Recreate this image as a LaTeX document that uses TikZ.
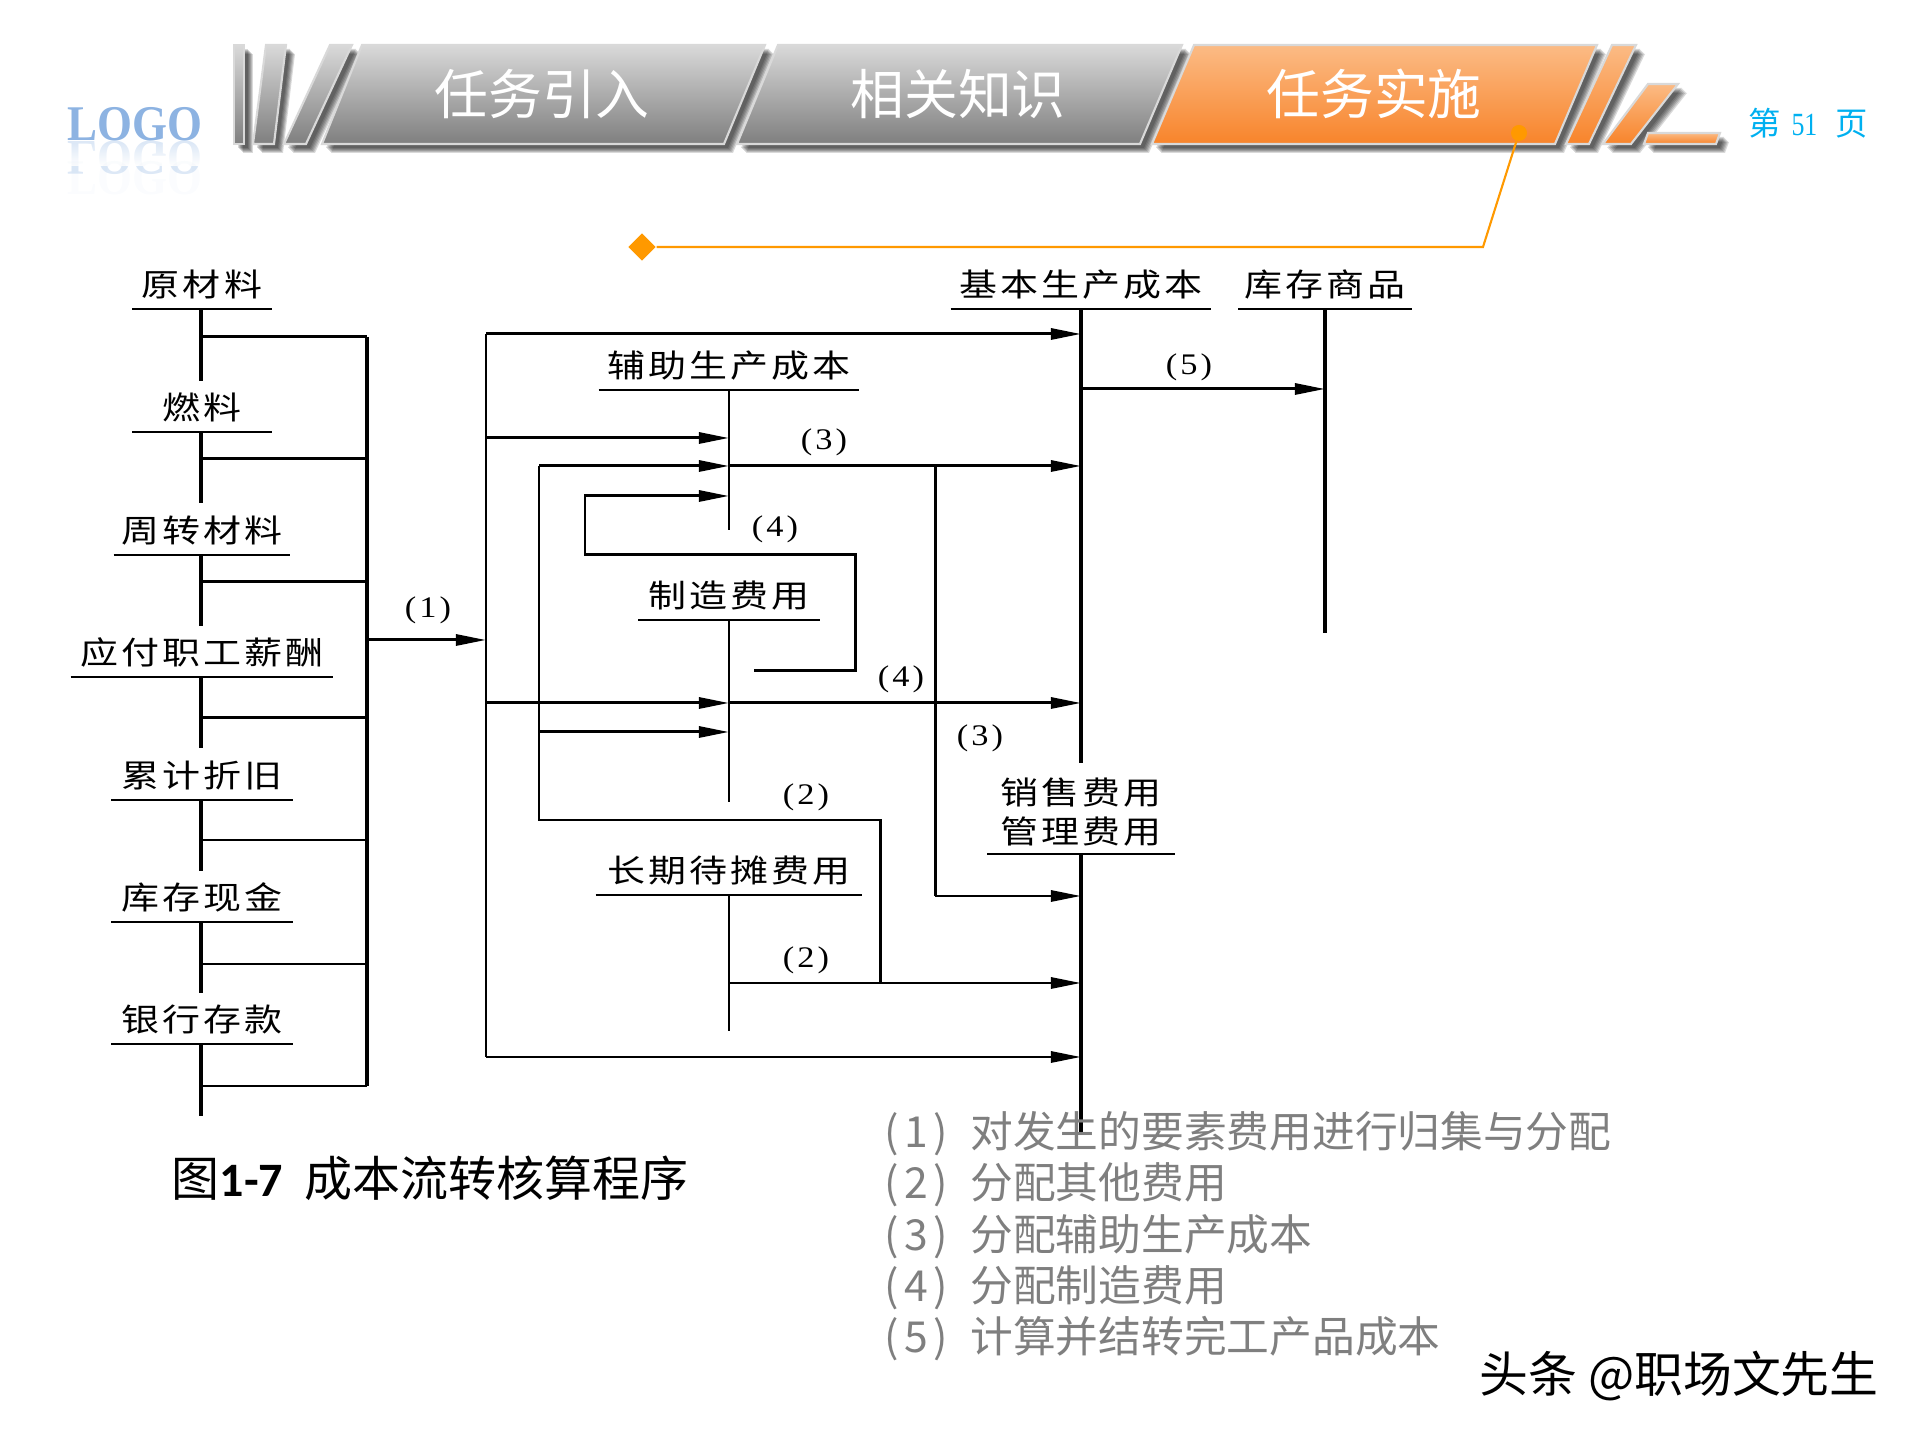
\documentclass[tikz,border=0pt]{standalone}
\usepackage{fontspec}
\usetikzlibrary{positioning,calc,arrows.meta,shapes.geometric,fadings}

\newfontfamily\hanfont{Noto Sans CJK SC}
\newfontfamily\acctfont[LetterSpace=10,FakeStretch=1.2]{Noto Sans CJK SC}
\newfontfamily\legnumfont[LetterSpace=13]{Noto Sans CJK SC}
\newfontfamily\flowfont[LetterSpace=10,FakeStretch=1.15]{Liberation Serif}
\newfontfamily\serfont[FakeStretch=0.8]{Liberation Serif}
\newfontfamily\logofont[FakeStretch=0.9]{Liberation Serif}
\newfontfamily\capnumfont{Carlito}

\definecolor{tabedge}{HTML}{D9D9D9}
\definecolor{graytop}{HTML}{D9D9D9}
\definecolor{graybot}{HTML}{7F7F7F}
\definecolor{orangetop}{HTML}{FBBB85}
\definecolor{orangebot}{HTML}{F8842B}
\definecolor{callout}{HTML}{FF9900}
\definecolor{pageblue}{HTML}{00B0F0}
\definecolor{logoblue}{HTML}{8DB3E2}
\definecolor{legendgray}{HTML}{7F7F7F}

\newcommand{\tabpiece}[3]{%
	\foreach \s in {9,8,7,6,5,4} \fill[black,opacity=0.15,shift={(\s,\s)}] #1;
	\shade[top color=#2,bottom color=#3,draw=tabedge,line width=0.6pt] #1;
}

\tikzset{
	acct/.style={anchor=south,inner sep=0pt,minimum height=0.47cm,align=center,
		font=\fontsize{9pt}{11.1pt}\selectfont\acctfont},
	flownum/.style={inner sep=0pt,font=\fontsize{8.5pt}{10pt}\selectfont\flowfont},
	tabtext/.style={inner sep=0pt,text=white,font=\fontsize{15.3pt}{18pt}\selectfont\hanfont},
	rule/.style={line width=0.8pt},
	stem/.style={line width=1pt},
	flow/.style={line width=0.85pt},
}

\begin{document}
\begin{tikzpicture}[x=0.01cm, y=-0.01cm, line cap=butt, line join=miter, >={Triangle[length=0.3cm,width=0.11cm]}]
	\useasboundingbox (0,0) rectangle (1920,1440);

	% logo
	\node[inner sep=0pt,anchor=base,text=logoblue,font=\fontsize{14.2pt}{16pt}\selectfont\logofont\bfseries] (logo) at (135,141) {LOGO};
	\node[inner sep=0pt,text=logoblue,opacity=0.3,font=\fontsize{14.2pt}{16pt}\selectfont\logofont\bfseries] (logoflip) at (135,158) {\scalebox{1}[-1]{LOGO}};
	\fill[white,path fading=north] (60,143) rectangle (210,166);
	\node[inner sep=0pt,text=logoblue,opacity=0.04,font=\fontsize{14.2pt}{16pt}\selectfont\logofont\bfseries] (logofaint) at (135,178) {LOGO};

	% header stripes and tabs
	\tabpiece{(234,45) -- (244,45) -- (244,144) -- (234,144) -- cycle}{graytop}{graybot}
	\tabpiece{(266,45) -- (286,45) -- (274,144) -- (253,144) -- cycle}{graytop}{graybot}
	\tabpiece{(330,45) -- (352,45) -- (306,144) -- (284,144) -- cycle}{graytop}{graybot}
	\tabpiece{(362,45) -- (765,45) -- (724,144) -- (322,144) -- cycle}{graytop}{graybot}
	\tabpiece{(778,45) -- (1182,45) -- (1140,144) -- (737,144) -- cycle}{graytop}{graybot}
	\tabpiece{(1194,45) -- (1597,45) -- (1555,144) -- (1152,144) -- cycle}{orangetop}{orangebot}
	\tabpiece{(1612,45) -- (1636,45) -- (1589,144) -- (1566,144) -- cycle}{orangetop}{orangebot}
	\tabpiece{(1648,84) -- (1678,84) -- (1631,144) -- (1603,144) -- cycle}{orangetop}{orangebot}
	\tabpiece{(1648,133) -- (1720,133) -- (1716,144) -- (1644,144) -- cycle}{orangetop}{orangebot}
	\node[tabtext] (tabintro) at (542,94) {任务引入};
	\node[tabtext] (tabknow) at (958,94) {相关知识};
	\node[tabtext] (tabdo) at (1374,94) {任务实施};
	\node[inner sep=0pt,text=pageblue,font=\fontsize{9.2pt}{11pt}\selectfont\hanfont] (pageno) at (1808,123) {第\hspace{3pt}{\serfont 51}\hspace{5pt}页};

	% callout
	\node[diamond,fill=callout,inner sep=0pt,minimum width=0.28cm,minimum height=0.28cm] (calloutend) at (642,247) {};
	\node[circle,fill=callout,inner sep=0pt,minimum size=0.16cm] (calloutdot) at (1519,133) {};
	\coordinate (calloutbend) at (1483,247);
	\draw[callout,line width=0.6pt] (calloutend) -- (calloutbend) -- (calloutdot);

	% accounts on the left
	\coordinate (colltop) at (367,337);
	\coordinate (collbot) at (367,1086);
	\foreach \n/\y/\w/\b/\e/\t in {raw/309/1.38cm/337/381/原材料,fuel/432/1.38cm/459/503/燃料,
			turn/555/1.75cm/582/626/周转材料,wage/677/2.61cm/718/748/应付职工薪酬,
			depr/800/1.80cm/840/871/累计折旧,cash/922/1.80cm/964/993/库存现金,
			bank/1044/1.80cm/1086/1116/银行存款}{
		\node[acct,minimum width=\w] (\n) at (202,\y) {\t};
		\coordinate (\n-tap) at (201,\b);
		\coordinate (\n-end) at (201,\e);
		\draw[rule] (\n.south west) -- (\n.south east);
		\draw[stem] (\n-tap |- \n.south) -- (\n-end);
		\draw[flow] (\n-tap) -- (\n-tap -| colltop);
	}
	\draw[stem] (colltop) -- (collbot);

	% accounts on the right
	\node[acct,minimum width=2.59cm] (basic) at (1081,309) {基本生产成本};
	\node[acct,minimum width=1.72cm] (stock) at (1325,309) {库存商品};
	\node[acct,minimum width=2.59cm] (aux) at (729,390) {辅助生产成本};
	\node[acct,minimum width=1.80cm] (ovh) at (729,620) {制造费用};
	\node[acct,minimum width=2.65cm] (defer) at (729,895) {长期待摊费用};
	\node[acct,minimum width=1.86cm,minimum height=0.83cm] (sell) at (1081,854) {销售费用\\管理费用};
	\foreach \n in {basic,stock,aux,ovh,defer,sell}
		\draw[rule] (\n.south west) -- (\n.south east);

	% stems
	\coordinate (basicend) at (1081,763);
	\coordinate (stockend) at (1325,633);
	\coordinate (auxend) at (729,530);
	\coordinate (ovhend) at (729,802);
	\coordinate (deferend) at (729,1031);
	\coordinate (sellend) at (1081,1135);
	\draw[stem] (basic.south) -- (basicend);
	\draw[stem] (stock.south) -- (stockend);
	\draw[rule] (aux.south) -- (auxend);
	\draw[rule] (ovh.south) -- (ovhend);
	\draw[rule] (defer.south) -- (deferend);
	\draw[stem] (sell.south) -- (sellend);

	% material feed
	\coordinate (collout) at (367,640);
	\coordinate (feedin) at (486,640);
	\coordinate (feedtop) at (486,334);
	\coordinate (feedaux) at (486,438);
	\coordinate (feedovh) at (486,703);
	\coordinate (feedbot) at (486,1057);
	\draw[flow,->] (collout) -- (feedin);
	\draw[flow] (feedtop) -- (feedbot);
	\draw[flow,->] (feedtop) -- (feedtop -| basic.south);
	\draw[flow,->] (feedaux) -- (feedaux -| aux.south);
	\draw[flow,->] (feedovh) -- (feedovh -| ovh.south);
	\draw[flow,->] (feedovh -| ovh.south) -- (feedovh -| basic.south);
	\draw[flow,->] (feedbot) -- (feedbot -| sell.south);

	% auxiliary cost
	\coordinate (auxrow) at (729,466);
	\coordinate (auxtee) at (935,466);
	\coordinate (auxsell) at (935,896);
	\draw[flow,->] (auxrow) -- (auxrow -| basic.south);
	\draw[flow] (auxtee) -- (auxsell);
	\draw[flow,->] (auxsell) -- (auxsell -| sell.south);

	% deferred cost
	\coordinate (deferrow) at (729,983);
	\coordinate (deferup) at (880,983);
	\coordinate (deferturn) at (880,820);
	\coordinate (backturn) at (539,820);
	\coordinate (backtop) at (539,466);
	\coordinate (backovh) at (539,732);
	\draw[flow,->] (deferrow) -- (deferrow -| sell.south);
	\draw[flow] (deferup) -- (deferturn) -- (backturn) -- (backtop);
	\draw[flow,->] (backtop) -- (backtop -| aux.south);
	\draw[flow,->] (backovh) -- (backovh -| ovh.south);

	% overhead loop
	\coordinate (loopstart) at (754,671);
	\coordinate (loopa) at (855,671);
	\coordinate (loopb) at (855,555);
	\coordinate (loopc) at (585,555);
	\coordinate (loopd) at (585,496);
	\draw[flow,->] (loopstart) -- (loopa) -- (loopb) -- (loopc) -- (loopd) -- (loopd -| aux.south);

	% finished goods
	\coordinate (donerow) at (1081,389);
	\draw[flow,->] (donerow) -- (donerow -| stock.south);

	% symbols
	\node[flownum] (numa) at (428,610) {(1)};
	\node[flownum] (numb) at (824,442) {(3)};
	\node[flownum] (numc) at (775,529) {(4)};
	\node[flownum] (numd) at (901,679) {(4)};
	\node[flownum] (nume) at (980,738) {(3)};
	\node[flownum] (numf) at (806,797) {(2)};
	\node[flownum] (numg) at (806,960) {(2)};
	\node[flownum] (numh) at (1189,367) {(5)};

	% caption
	\node[anchor=west,inner sep=0pt,font=\fontsize{13.65pt}{16pt}\selectfont\hanfont] (caption) at (171,1178) {图{\capnumfont\bfseries 1-7}\hspace{6pt}成本流转核算程序};

	% legend
	\foreach \n/\y/\t in {1/1134/对发生的要素费用进行归集与分配,2/1185/分配其他费用,3/1237/分配辅助生产成本,4/1288/分配制造费用,5/1339/计算并结转完工产品成本}
		\node[anchor=west,inner sep=0pt,text=legendgray,font=\fontsize{12.15pt}{14pt}\selectfont\hanfont] (legend\n) at (884,\y) {\makebox[24.4pt][l]{{\legnumfont (\n)}}\t};

	% watermark
	\node[inner sep=0pt,font=\fontsize{13.9pt}{16pt}\selectfont\hanfont] (mark) at (1679,1376) {头条 @职场文先生};
\end{tikzpicture}
\end{document}
